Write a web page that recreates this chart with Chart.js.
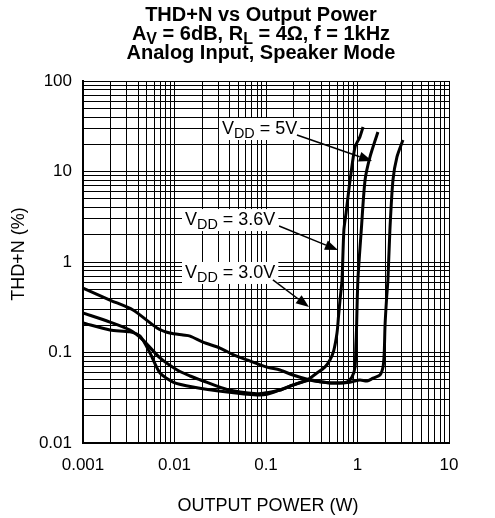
<!DOCTYPE html>
<html>
<head>
<meta charset="utf-8">
<script src="https://cdn.jsdelivr.net/npm/chart.js@4/dist/chart.umd.min.js"></script>
<style>
html,body{margin:0;padding:0;background:#fff;}
canvas{display:block;}
</style>
</head>
<body>
<canvas id="c" width="495" height="518" style="width:495px;height:518px"></canvas>
<script>
// ---------- data ----------
const seriesNames = ['VDD = 5V', 'VDD = 3.6V', 'VDD = 3.0V'];

const power5V = [0.001, 0.00197, 0.00352, 0.00644, 0.0089, 0.0124, 0.0148, 0.0205, 0.0314, 0.0436, 0.0619, 0.1025, 0.142, 0.197, 0.303, 0.389, 0.54, 0.83, 1.06, 1.27, 1.48, 1.76, 1.90, 1.96, 2.0, 2.08, 2.15, 2.26, 2.44, 2.70, 3.14];
const thd5V   = [0.516, 0.38, 0.295, 0.187, 0.164, 0.156, 0.152, 0.13, 0.112, 0.095, 0.083, 0.069, 0.064, 0.0564, 0.0496, 0.0475, 0.046, 0.047, 0.0496, 0.0484, 0.052, 0.0564, 0.069, 0.1, 0.2, 0.4, 0.632, 2.26, 8.05, 14.5, 22.3];

const power36V = [0.001, 0.00197, 0.00326, 0.00453, 0.00695, 0.0107, 0.0148, 0.019, 0.0375, 0.0797, 0.1025, 0.142, 0.197, 0.303, 0.389, 0.54, 0.76, 0.87, 0.94, 0.96, 0.975, 1.01, 1.10, 1.21, 1.37, 1.67];
const thd36V   = [0.273, 0.217, 0.177, 0.137, 0.087, 0.064, 0.055, 0.05, 0.039, 0.035, 0.036, 0.0385, 0.0437, 0.0496, 0.0475, 0.046, 0.047, 0.0536, 0.069, 0.12, 0.177, 0.632, 2.26, 8.05, 14.5, 27.3];

const power30V = [0.001, 0.00197, 0.00326, 0.0042, 0.0054, 0.00695, 0.00964, 0.0159, 0.0375, 0.0797, 0.1025, 0.142, 0.197, 0.28, 0.36, 0.44, 0.50, 0.55, 0.597, 0.62, 0.644, 0.677, 0.71, 0.75, 0.83, 0.94, 1.06, 1.15];
const thd30V   = [0.212, 0.177, 0.169, 0.152, 0.0987, 0.0593, 0.0472, 0.0416, 0.0366, 0.0339, 0.0345, 0.0385, 0.0437, 0.0496, 0.0593, 0.069, 0.0826, 0.105, 0.164, 0.25, 0.38, 0.632, 2.26, 3.48, 8.05, 18.7, 24.0, 31.0];

const xTickValues = [0.001, 0.01, 0.1, 1, 10];
const xTickLabels = ['0.001', '0.01', '0.1', '1', '10'];
const yTickValues = [0.01, 0.1, 1, 10, 100];
const yTickLabels = ['0.01', '0.1', '1', '10', '100'];

const titleLines = [
  [{t:'THD+N vs Output Power'}],
  [{t:'A'}, {t:'V', sub:true}, {t:' = 6dB, R'}, {t:'L', sub:true}, {t:' = 4\u03A9, f = 1kHz'}],
  [{t:'Analog Input, Speaker Mode'}]
];
const xTitle = 'OUTPUT POWER (W)';
const yTitle = 'THD+N (%)';

// annotation labels: text anchor, arrow tail and arrow tip in data units
const annoText = [
  [{t:'V'}, {t:'DD', sub:true}, {t:' = 5V'}],
  [{t:'V'}, {t:'DD', sub:true}, {t:' = 3.6V'}],
  [{t:'V'}, {t:'DD', sub:true}, {t:' = 3.0V'}]
];
const annoAnchor = [[0.0330, 25.97], [0.01302, 2.56], [0.01302, 0.666]];
const annoTail   = [[0.218, 25.3], [0.139, 2.50], [0.119, 0.633]];
const annoTip    = [[1.44, 13.06], [0.612, 1.357], [0.295, 0.318]];

// ---------- helpers ----------
const FAMILY = "'Liberation Sans', Arial, Helvetica, sans-serif";
function decadeTicks(decades) {
  const out = [];
  for (let i = 0; i < decades.length - 1; i++) {
    for (let m = 1; m <= 9; m++) out.push(m === 1 ? decades[i] : m * decades[i]);
  }
  out.push(decades[decades.length - 1]);
  return out;
}
function pts(xs, ys) { return xs.map((x, i) => ({x: x, y: ys[i]})); }

function drawRich(ctx, parts, x, y, size, bold, align) {
  const f = s => (bold ? 'bold ' : '') + s + 'px ' + FAMILY;
  let w = 0;
  parts.forEach(p => { ctx.font = f(p.sub ? size * 0.8 : size); p.w = ctx.measureText(p.t).width; w += p.w; });
  let cx = align === 'center' ? x - w / 2 : x;
  parts.forEach(p => {
    ctx.font = f(p.sub ? size * 0.8 : size);
    ctx.fillText(p.t, cx, p.sub ? y + size * 0.22 : y);
    cx += p.w;
  });
  return w;
}
function drawArrow(ctx, x1, y1, x2, y2) {
  const ang = Math.atan2(y2 - y1, x2 - x1);
  const L = 13, W = 5;
  const bx = x2 - L * Math.cos(ang), by = y2 - L * Math.sin(ang);
  ctx.beginPath(); ctx.moveTo(x1, y1); ctx.lineTo(bx, by); ctx.stroke();
  ctx.beginPath();
  ctx.moveTo(x2, y2);
  ctx.lineTo(bx + W * Math.sin(ang), by - W * Math.cos(ang));
  ctx.lineTo(bx - W * Math.sin(ang), by + W * Math.cos(ang));
  ctx.closePath(); ctx.fill();
}

const overlay = {
  id: 'overlay',
  beforeDraw(chart) {
    const c = chart.ctx;
    c.save(); c.fillStyle = '#fff'; c.fillRect(0, 0, chart.width, chart.height); c.restore();
  },
  afterDatasetsDraw(chart) {
    const ctx = chart.ctx, xs = chart.scales.x, ys = chart.scales.y;
    ctx.save();
    ctx.fillStyle = '#000'; ctx.strokeStyle = '#000';
    ctx.textBaseline = 'alphabetic'; ctx.textAlign = 'left';
    // title
    const baselines = [21, 40, 59];
    titleLines.forEach((ln, i) => drawRich(ctx, ln, 261, baselines[i], 20, true, 'center'));
    // axis titles
    ctx.font = '18px ' + FAMILY;
    ctx.textAlign = 'center';
    ctx.fillText(xTitle, 268, 511);
    ctx.save();
    ctx.translate(24, 254); ctx.rotate(-Math.PI / 2);
    ctx.fillText(yTitle, 0, 0);
    ctx.restore();
    ctx.textAlign = 'left';
    // annotations
    annoText.forEach((parts, i) => {
      const ax = xs.getPixelForValue(annoAnchor[i][0]);
      const ay = ys.getPixelForValue(annoAnchor[i][1]);
      let w = 0;
      parts.forEach(p => { ctx.font = (p.sub ? 14.4 : 18) + 'px ' + FAMILY; w += ctx.measureText(p.t).width; });
      ctx.fillStyle = '#fff';
      ctx.fillRect(ax - 3, ay - 16, w + 6, 22);
      ctx.fillStyle = '#000';
      drawRich(ctx, parts, ax, ay, 18, false, 'left');
      ctx.lineWidth = 1.5;
      drawArrow(ctx,
        xs.getPixelForValue(annoTail[i][0]), ys.getPixelForValue(annoTail[i][1]),
        xs.getPixelForValue(annoTip[i][0]), ys.getPixelForValue(annoTip[i][1]));
    });
    ctx.restore();
  }
};

const xLabelMap = new Map(xTickValues.map((v, i) => [v, xTickLabels[i]]));
const yLabelMap = new Map(yTickValues.map((v, i) => [v, yTickLabels[i]]));
const xAll = decadeTicks(xTickValues);
const yAll = decadeTicks(yTickValues);

const lineStyle = {showLine: true, borderColor: '#000', backgroundColor: '#000', borderWidth: 3, pointRadius: 0, tension: 0.25, fill: false};

Chart.defaults.font.family = FAMILY;
Chart.defaults.color = '#000';

new Chart(document.getElementById('c'), {
  type: 'scatter',
  data: {
    datasets: [
      Object.assign({label: seriesNames[0], data: pts(power5V, thd5V)}, lineStyle),
      Object.assign({label: seriesNames[1], data: pts(power36V, thd36V)}, lineStyle),
      Object.assign({label: seriesNames[2], data: pts(power30V, thd30V)}, lineStyle)
    ]
  },
  options: {
    responsive: false,
    animation: false,
    layout: {padding: {top: 81, right: 46, left: 0, bottom: 0}},
    plugins: {legend: {display: false}, tooltip: {enabled: false}, title: {display: false}},
    scales: {
      x: {
        type: 'logarithmic', min: 0.001, max: 10,
        afterBuildTicks: s => { s.ticks = xAll.map(v => ({value: v})); },
        afterFit: s => { s.height = 75; },
        ticks: {autoSkip: false, maxRotation: 0, padding: 12, font: {size: 17},
          callback: v => xLabelMap.has(v) ? xLabelMap.get(v) : ''},
        grid: {color: '#000', lineWidth: 1, drawTicks: false},
        border: {color: '#000', width: 2}
      },
      y: {
        type: 'logarithmic', min: 0.01, max: 100,
        afterBuildTicks: s => { s.ticks = yAll.map(v => ({value: v})); },
        afterFit: s => { s.width = 83; },
        ticks: {autoSkip: false, padding: 11, font: {size: 17},
          callback: v => yLabelMap.has(v) ? yLabelMap.get(v) : ''},
        grid: {color: '#000', lineWidth: 1, drawTicks: false},
        border: {color: '#000', width: 2}
      }
    }
  },
  plugins: [overlay]
});
</script>
</body>
</html>
